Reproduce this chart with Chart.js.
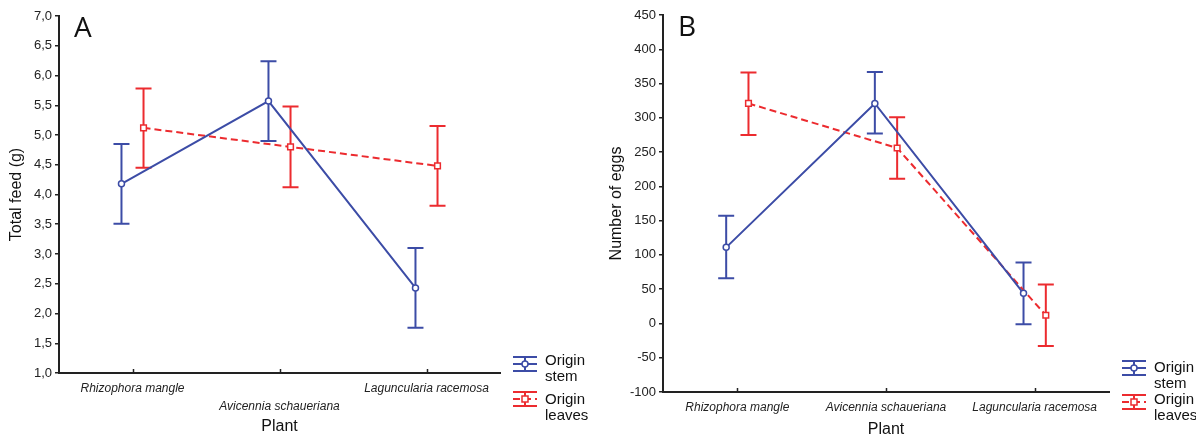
<!DOCTYPE html>
<html>
<head>
<meta charset="utf-8">
<script src="https://cdn.jsdelivr.net/npm/chart.js@4.4.1/dist/chart.umd.min.js"></script>
<style>
  html, body { margin: 0; padding: 0; background: #fff; }
  #wrap { position: relative; width: 1196px; height: 437px; }
  canvas { position: absolute; top: 0; }
  #chartA { left: 0; }
  #chartB { left: 600px; }
</style>
</head>
<body>
<div id="wrap">
  <canvas id="chartA" width="600" height="437"></canvas>
  <canvas id="chartB" width="596" height="437"></canvas>
</div>
<script>
// Chart data
const plants = ["Rhizophora mangle", "Avicennia schaueriana", "Laguncularia racemosa"];

// Panel A - total feed (g)
const feedStem = [4.18, 5.57, 2.43];
const feedStemLow = [3.51, 4.9, 1.76];
const feedStemHigh = [4.85, 6.24, 3.1];
const feedLeaves = [5.12, 4.8, 4.48];
const feedLeavesLow = [4.45, 4.12, 3.81];
const feedLeavesHigh = [5.78, 5.48, 5.15];

// Panel B - number of eggs
const eggsStem = [111, 321, 44];
const eggsStemLow = [66, 277, -1];
const eggsStemHigh = [157, 367, 89];
const eggsLeaves = [321, 256, 12];
const eggsLeavesLow = [275, 211, -33];
const eggsLeavesHigh = [366, 301, 57];

const BLUE = "#3c4ca6";
const RED = "#ec2b2f";
const FONT = "'Liberation Sans', Arial, sans-serif";

// Draws error bars, inward x ticks, the panel letter and the legend
const panelPlugin = {
  id: "panelExtras",
  beforeDatasetsDraw(chart) {
    const ctx = chart.ctx;
    const x = chart.scales.x;
    const y = chart.scales.y;

    chart.data.datasets.forEach((ds) => {
      ctx.save();
      ctx.strokeStyle = ds.borderColor;
      ctx.lineWidth = 2;
      ds.data.forEach((pt, i) => {
        const px = x.getPixelForValue(pt.x);
        const top = y.getPixelForValue(ds.errHigh[i]);
        const bot = y.getPixelForValue(ds.errLow[i]);
        ctx.beginPath();
        ctx.moveTo(px, top);
        ctx.lineTo(px, bot);
        ctx.moveTo(px - 8, top);
        ctx.lineTo(px + 8, top);
        ctx.moveTo(px - 8, bot);
        ctx.lineTo(px + 8, bot);
        ctx.stroke();
      });
      ctx.restore();
    });
  },
  afterDraw(chart, args, opts) {
    const ctx = chart.ctx;
    const area = chart.chartArea;
    const x = chart.scales.x;

    // small tick marks pointing up into the plot
    ctx.save();
    ctx.strokeStyle = "#222";
    ctx.lineWidth = 1.5;
    plants.forEach((p, i) => {
      const px = Math.round(x.getPixelForValue(i)) + 0.5;
      ctx.beginPath();
      ctx.moveTo(px, area.bottom);
      ctx.lineTo(px, area.bottom - 4);
      ctx.stroke();
    });

    // panel letter
    ctx.fillStyle = "#111";
    ctx.font = "28px 'Open Sans', sans-serif";
    ctx.textBaseline = "alphabetic";
    ctx.fillText(opts.letter, area.left + 15, area.top + 21);

    // legend
    const lx = area.right + 13;
    chart.data.datasets.forEach((ds, k) => {
      const ly = area.bottom + opts.legendY[k];
      const ty = area.bottom + opts.legendText[k];
      const cx = lx + 12;
      ctx.strokeStyle = ds.borderColor;
      ctx.lineWidth = 2;
      ctx.setLineDash([]);
      ctx.beginPath();
      ctx.moveTo(lx, ly - 7);
      ctx.lineTo(lx + 24, ly - 7);
      ctx.moveTo(lx, ly + 7);
      ctx.lineTo(lx + 24, ly + 7);
      ctx.moveTo(cx, ly - 7);
      ctx.lineTo(cx, ly + 7);
      ctx.stroke();
      ctx.setLineDash(ds.borderDash || []);
      ctx.beginPath();
      ctx.moveTo(lx, ly);
      ctx.lineTo(lx + 24, ly);
      ctx.stroke();
      ctx.setLineDash([]);
      ctx.fillStyle = "#fff";
      ctx.lineWidth = 1.5;
      ctx.beginPath();
      if (ds.pointStyle === "rect") {
        ctx.rect(cx - 3, ly - 3, 6, 6);
      } else {
        ctx.arc(cx, ly, 3, 0, Math.PI * 2);
      }
      ctx.fill();
      ctx.stroke();

      ctx.fillStyle = "#111";
      ctx.font = "15px " + FONT;
      ctx.textBaseline = "middle";
      ctx.fillText("Origin", lx + 32, ty);
      ctx.fillText(ds.label, lx + 32, ty + 16);
    });
    ctx.restore();
  },
};

function makeSeries(label, means, low, high, offset, color, dashed) {
  return {
    label: label,
    data: means.map((v, i) => ({ x: i + offset, y: v })),
    errLow: low,
    errHigh: high,
    borderColor: color,
    backgroundColor: "#fff",
    borderWidth: 2,
    borderDash: dashed ? [7, 4] : [],
    pointStyle: dashed ? "rect" : "circle",
    pointRadius: dashed ? 4 : 3,
    pointBorderWidth: 1.5,
    pointBackgroundColor: "#fff",
    tension: 0,
  };
}

function makePanel(id, cfg) {
  const ctx = document.getElementById(id).getContext("2d");
  return new Chart(ctx, {
    type: "line",
    data: {
      datasets: [
        makeSeries("stem", cfg.stem, cfg.stemLow, cfg.stemHigh, -0.075, BLUE, false),
        makeSeries("leaves", cfg.leaves, cfg.leavesLow, cfg.leavesHigh, 0.075, RED, true),
      ],
    },
    plugins: [panelPlugin],
    options: {
      responsive: false,
      animation: false,
      layout: { padding: { top: cfg.top, right: cfg.right, left: 0, bottom: 0 } },
      plugins: {
        legend: { display: false },
        tooltip: { enabled: false },
        panelExtras: { letter: cfg.letter, legendY: cfg.legendY, legendText: cfg.legendText },
      },
      scales: {
        x: {
          type: "linear",
          min: -0.5,
          max: 2.5,
          afterBuildTicks: (scale) => {
            scale.ticks = plants.map((p, i) => ({ value: i }));
          },
          afterFit: (scale) => {
            scale.height = cfg.xHeight;
          },
          border: { color: "#222", width: 2 },
          grid: { display: false, drawTicks: false },
          ticks: {
            padding: 7,
            color: "#222",
            maxRotation: 0,
            autoSkip: false,
            font: { family: FONT, size: 12, style: "italic", lineHeight: 1.5 },
            callback: (value) => cfg.xLabel(value),
          },
          title: {
            display: true,
            text: "Plant",
            color: "#111",
            font: { family: FONT, size: 16 },
            padding: { top: 0, bottom: cfg.xTitlePad },
          },
        },
        y: {
          min: cfg.yMin,
          max: cfg.yMax,
          afterFit: (scale) => {
            scale.width = cfg.yWidth;
          },
          border: { color: "#222", width: 2 },
          grid: { drawOnChartArea: false, tickLength: 4, color: "#222", lineWidth: 1.5 },
          ticks: {
            stepSize: cfg.yStep,
            padding: 3,
            color: "#222",
            font: { family: FONT, size: 13 },
            callback: cfg.yFormat,
          },
          title: {
            display: true,
            text: cfg.yTitle,
            color: "#111",
            font: { family: FONT, size: 16 },
            padding: { top: 7, bottom: 0 },
          },
        },
      },
    },
  });
}

makePanel("chartA", {
  letter: "A",
  stem: feedStem, stemLow: feedStemLow, stemHigh: feedStemHigh,
  leaves: feedLeaves, leavesLow: feedLeavesLow, leavesHigh: feedLeavesHigh,
  yMin: 1, yMax: 7, yStep: 0.5,
  yFormat: (v) => v.toFixed(1).replace(".", ","),
  yTitle: "Total feed (g)",
  xLabel: (v) => (v === 1 ? ["", plants[v]] : plants[v]),
  xTitlePad: 1,
  top: 16, right: 100, yWidth: 59, xHeight: 64,
  legendY: [-9, 26],
  legendText: [-12, 27],
});

makePanel("chartB", {
  letter: "B",
  stem: eggsStem, stemLow: eggsStemLow, stemHigh: eggsStemHigh,
  leaves: eggsLeaves, leavesLow: eggsLeavesLow, leavesHigh: eggsLeavesHigh,
  yMin: -100, yMax: 450, yStep: 50,
  yFormat: (v) => String(v),
  yTitle: "Number of eggs",
  xLabel: (v) => plants[v],
  xTitlePad: -2,
  top: 15, right: 87, yWidth: 63, xHeight: 45,
  legendY: [-24, 10],
  legendText: [-24, 8],
});
</script>
</body>
</html>
